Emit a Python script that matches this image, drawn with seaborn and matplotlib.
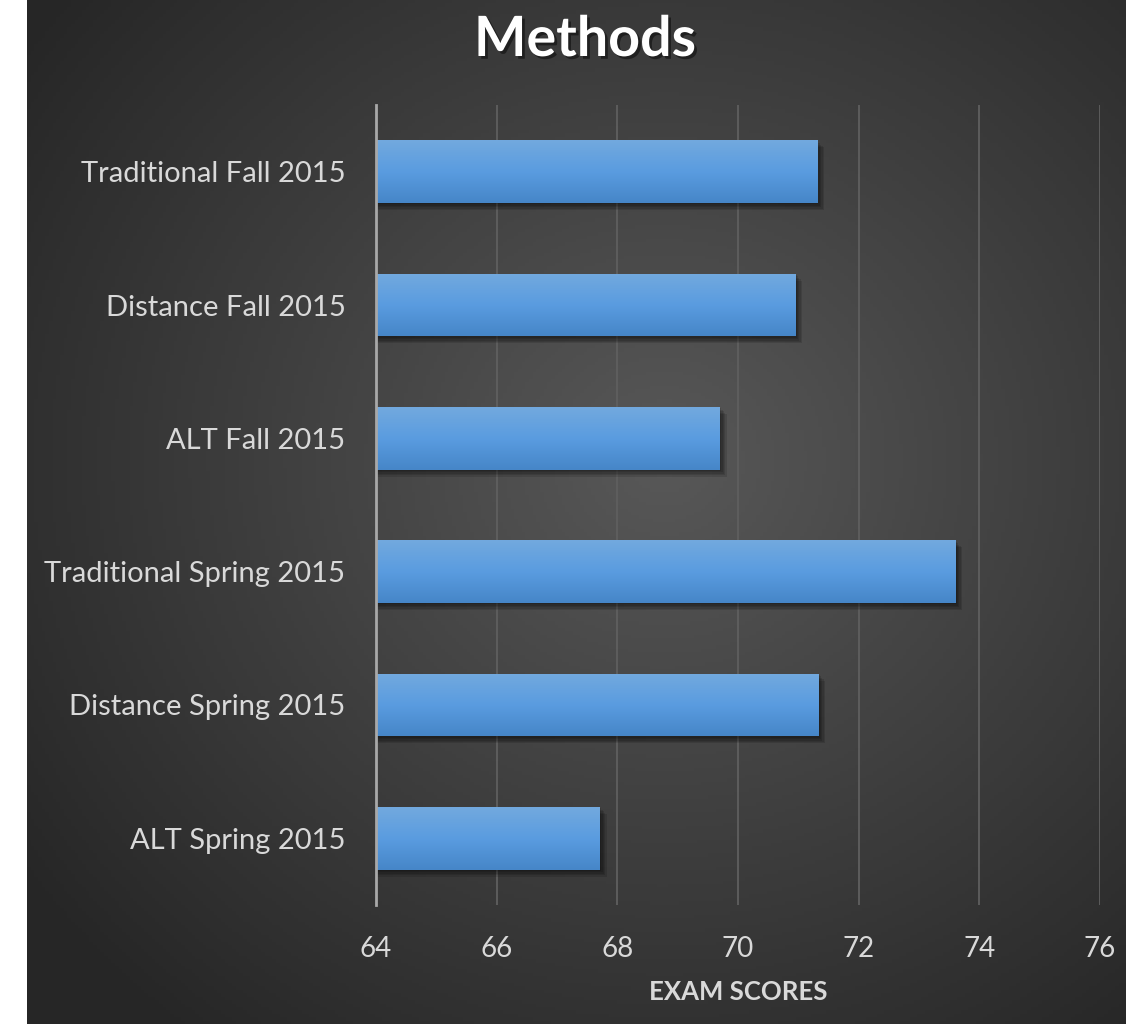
import numpy as np
import pandas as pd
import matplotlib
matplotlib.use("Agg")
import matplotlib.pyplot as plt
import matplotlib.patheffects as pe
from matplotlib.colors import LinearSegmentedColormap
import seaborn as sns

categories = ['Traditional Fall 2015', 'Distance Fall 2015', 'ALT Fall 2015',
              'Traditional Spring 2015', 'Distance Spring 2015', 'ALT Spring 2015']
scores = [71.31, 70.95, 69.70, 73.60, 71.33, 67.71]
xticks = [64, 66, 68, 70, 72, 74, 76]

df = pd.DataFrame({'group': categories, 'score': scores})

sns.set_theme(style='white')
plt.rcParams['font.family'] = ['Lato', 'DejaVu Sans']

W, H = 1126, 1024
fig = plt.figure(figsize=(W / 100, H / 100), dpi=100, facecolor='white')

# dark radial background (white strip on the left stays)
bg = fig.add_axes([27 / W, 0, 1 - 27 / W, 1])
bg.axis('off')
yy, xx = np.mgrid[0:1:300j, 0:1:300j]
r = np.sqrt((xx - 0.58) ** 2 + (yy - 0.45) ** 2)
v = np.clip(r / 0.72, 0, 1)
bgmap = LinearSegmentedColormap.from_list('bg', ['#585858', '#262626'])
bg.imshow(v, cmap=bgmap, extent=[0, 1, 0, 1], aspect='auto', vmin=0, vmax=1)
bg.set_xlim(0, 1)
bg.set_ylim(0, 1)

ax = fig.add_axes([376 / W, 1 - 905 / H, (1100 - 376) / W, 800 / H])
ax.patch.set_alpha(0)

sns.barplot(data=df, x='score', y='group', orient='h', color='#5B9BD5',
            width=0.47, saturation=1, ax=ax, zorder=3)

grad = np.linspace(0, 1, 100).reshape(-1, 1)
barmap = LinearSegmentedColormap.from_list('bar', ['#72a9de', '#5a9ce0', '#4686c8'])
soft = [pe.SimplePatchShadow(offset=(o, -o), shadow_rgbFace='black', alpha=0.12)
        for o in (1, 2, 3, 4, 5)]
for p in ax.patches:
    p.set_edgecolor('none')
    p.set_path_effects(soft + [pe.Normal()])
    y0 = p.get_y()
    h = p.get_height()
    im = ax.imshow(grad, cmap=barmap, aspect='auto', origin='upper',
                   extent=[64, p.get_x() + p.get_width(), y0 + h, y0], zorder=4)
    im.set_clip_path(p)

ax.set_xlim(64, 76)
ax.set_ylim(5.5, -0.5)
ax.set_xticks(xticks)
ax.grid(axis='x', color='#5f5f5f', lw=1.3, zorder=0)
ax.grid(axis='y', visible=False)
for s in ['top', 'right', 'bottom']:
    ax.spines[s].set_visible(False)
ax.spines['left'].set_color('#a8a8a8')
ax.spines['left'].set_linewidth(2)
ax.spines['left'].set_zorder(6)
ax.tick_params(axis='both', length=0, colors='#d9d9d9')
ax.tick_params(axis='x', pad=22, labelsize=20)
ax.tick_params(axis='y', pad=22, labelsize=21)
ax.set_ylabel('')
ax.set_xlabel('EXAM SCORES', fontsize=18.5, fontweight='bold', color='#d9d9d9', labelpad=13)

fig.text(585 / W, 1 - 40 / H, 'Methods', ha='center', va='center', fontsize=40,
         fontweight='bold', color='white',
         path_effects=[pe.withSimplePatchShadow(offset=(2, -2), shadow_rgbFace='black', alpha=0.45)])

fig.savefig('out.png', dpi=100, facecolor='white')
